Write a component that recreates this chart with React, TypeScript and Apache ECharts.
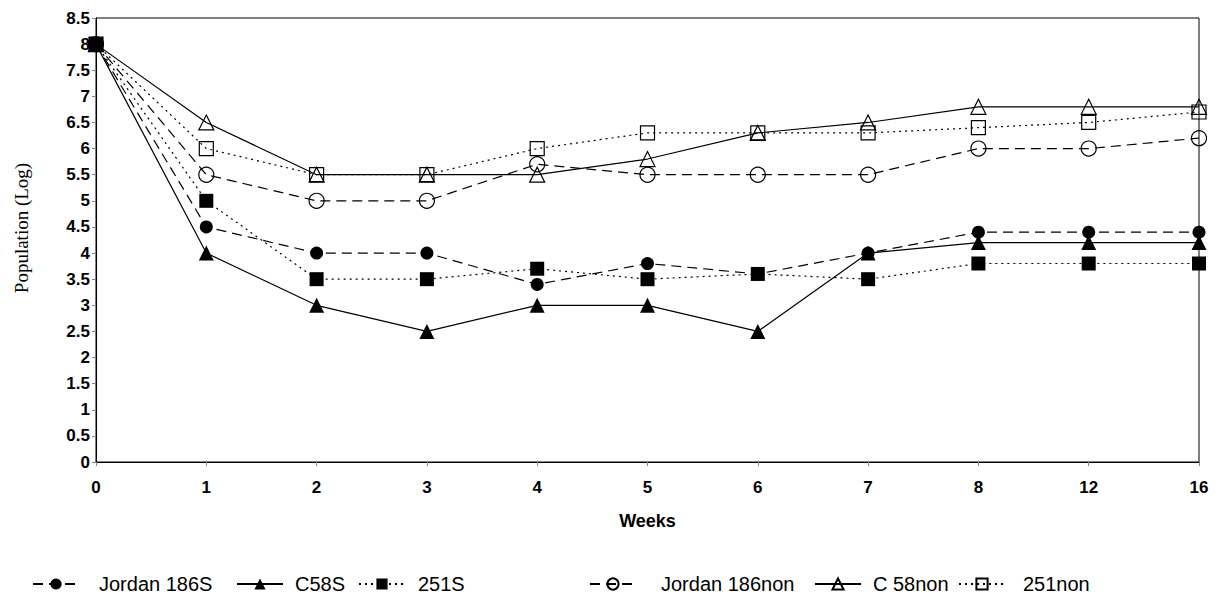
import React, { useEffect, useRef } from "react";
import * as echarts from "echarts";

const weeks = ["0", "1", "2", "3", "4", "5", "6", "7", "8", "12", "16"];
const jordan186S = [8, 4.5, 4, 4, 3.4, 3.8, 3.6, 4, 4.4, 4.4, 4.4];
const c58S = [8, 4, 3, 2.5, 3, 3, 2.5, 4, 4.2, 4.2, 4.2];
const s251S = [8, 5, 3.5, 3.5, 3.7, 3.5, 3.6, 3.5, 3.8, 3.8, 3.8];
const jordan186non = [8, 5.5, 5, 5, 5.7, 5.5, 5.5, 5.5, 6, 6, 6.2];
const c58non = [8, 6.5, 5.5, 5.5, 5.5, 5.8, 6.3, 6.5, 6.8, 6.8, 6.8];
const s251non = [8, 6, 5.5, 5.5, 6, 6.3, 6.3, 6.3, 6.4, 6.5, 6.7];

const seriesNames = ["Jordan 186S", "C58S", "251S", "Jordan 186non", "C 58non", "251non"];

const SANS = '"Liberation Sans", Arial, Helvetica, sans-serif';
const SERIF = '"Liberation Serif", "Times New Roman", serif';

export default function App() {
  const ref = useRef<HTMLDivElement>(null);
  useEffect(() => {
    if (!ref.current) return;
    const chart = echarts.init(ref.current, undefined, { renderer: "svg" });
    const dash = [10, 6];
    const dot = [2, 4];
    const mk = (
      name: string,
      data: number[],
      symbol: string,
      size: number,
      filled: boolean,
      type: any
    ) => ({
      name,
      type: "line",
      data,
      symbol,
      symbolSize: size,
      showSymbol: true,
      z: filled ? 3 : 2,
      lineStyle: { color: "#000", width: 1.2, type },
      itemStyle: filled
        ? { color: "#000", borderColor: "#000", borderWidth: 0 }
        : { color: "rgba(255,255,255,0)", borderColor: "#000", borderWidth: 1.2 },
      emphasis: { disabled: true },
    });
    // legend layout: [icon left, gap from icon end to text]
    const legendSpots = [
      [32, 15],
      [236, 7],
      [358, 8],
      [589, 20],
      [814, 7],
      [958, 13],
    ];
    const legends = seriesNames.map((n, i) => ({
      data: [n],
      left: legendSpots[i][0],
      top: 574,
      padding: 0,
      itemWidth: 46,
      itemHeight: 14,
      textStyle: {
        fontFamily: SANS,
        fontSize: 20,
        color: "#000",
        padding: [0, 0, 0, legendSpots[i][1]],
      },
    }));
    chart.setOption({
      animation: false,
      backgroundColor: "#fff",
      grid: {
        left: 96,
        right: 27,
        top: 18,
        bottom: 141,
        show: true,
        borderColor: "#000",
        borderWidth: 1,
        backgroundColor: "transparent",
      },
      legend: legends,
      xAxis: {
        type: "category",
        data: weeks,
        boundaryGap: false,
        name: "Weeks",
        nameLocation: "middle",
        nameGap: 50,
        nameTextStyle: { fontFamily: SANS, fontSize: 18, fontWeight: "bold", color: "#000" },
        axisLine: { lineStyle: { color: "#000", width: 1 } },
        axisTick: { show: true, length: 4, alignWithLabel: true, lineStyle: { color: "#888" } },
        axisLabel: { fontFamily: SANS, fontSize: 17, fontWeight: "bold", color: "#000", margin: 17 },
        splitLine: { show: false },
      },
      yAxis: {
        type: "value",
        min: 0,
        max: 8.5,
        interval: 0.5,
        axisLine: { show: true, lineStyle: { color: "#000", width: 1 } },
        axisTick: { show: true, length: 4, lineStyle: { color: "#888" } },
        axisLabel: { fontFamily: SANS, fontSize: 17, fontWeight: "bold", color: "#000", margin: 6 },
        splitLine: { show: false },
      },
      graphic: [
        {
          type: "text",
          x: 21,
          y: 228,
          rotation: Math.PI / 2,
          style: {
            text: "Population (Log)",
            fontFamily: SERIF,
            fontSize: 19,
            fill: "#000",
            textAlign: "center",
            textVerticalAlign: "middle",
          },
        },
      ],
      series: [
        mk(seriesNames[0], jordan186S, "circle", 13, true, dash),
        mk(seriesNames[1], c58S, "triangle", 15, true, "solid"),
        mk(seriesNames[2], s251S, "rect", 14, true, dot),
        mk(seriesNames[3], jordan186non, "circle", 15, false, dash),
        mk(seriesNames[4], c58non, "triangle", 15, false, "solid"),
        mk(seriesNames[5], s251non, "rect", 14, false, dot),
      ],
    });
    return () => chart.dispose();
  }, []);
  return <div ref={ref} style={{ width: 1226, height: 603, position: "absolute", left: 0, top: 0 }} />;
}
